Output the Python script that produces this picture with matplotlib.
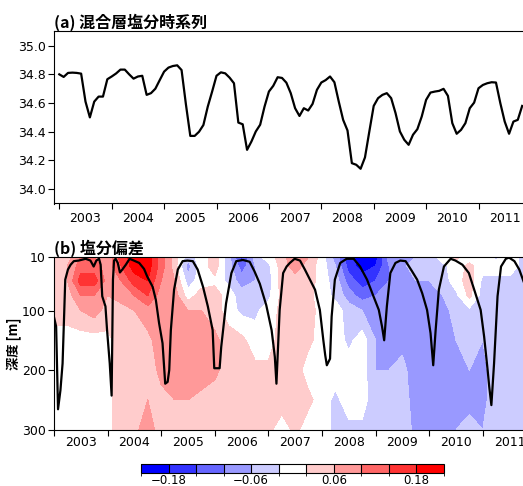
import matplotlib
matplotlib.use("Agg")
import matplotlib.pyplot as plt
import numpy as np
from matplotlib.colors import ListedColormap, BoundaryNorm
from matplotlib.cm import ScalarMappable

# ---- data ----
# (a) monthly mixed-layer salinity, Jan 2003 onwards
ml_salt = [34.80, 34.782, 34.81, 34.812, 34.81, 34.805, 34.61, 34.50, 34.61, 34.645, 34.645, 34.766,
           34.785, 34.806, 34.833, 34.833, 34.80, 34.77, 34.785, 34.79, 34.657, 34.669, 34.70, 34.76,
           34.819, 34.847, 34.858, 34.863, 34.83, 34.59, 34.371, 34.371, 34.40, 34.447, 34.575, 34.68,
           34.79, 34.814, 34.807, 34.777, 34.738, 34.464, 34.452, 34.274, 34.332, 34.402, 34.449, 34.575,
           34.68, 34.72, 34.78, 34.775, 34.742, 34.669, 34.564, 34.51, 34.564, 34.548, 34.594, 34.692,
           34.743, 34.76, 34.785, 34.745, 34.61, 34.483, 34.409, 34.181, 34.17, 34.142, 34.221, 34.402,
           34.58, 34.634, 34.657, 34.669, 34.634, 34.53, 34.402, 34.344, 34.309, 34.379, 34.418, 34.506,
           34.622, 34.673, 34.68, 34.685, 34.699, 34.65, 34.46, 34.386, 34.413, 34.46, 34.564, 34.603,
           34.703, 34.726, 34.738, 34.745, 34.743, 34.599, 34.471, 34.386, 34.471, 34.483, 34.58]
ml_time = 2003 + np.arange(len(ml_salt)) / 12.0

# (b) salinity anomaly, quarterly columns x depth rows
anom_depth = [10, 25, 50, 75, 100, 150, 200, 250, 300]
anom_time = 2003 + 0.25 * np.arange(36)
anom = [
    [0.04, 0.04, 0.10, 0.10, 0.06, 0.16, 0.20, 0.20, 0.12, 0.04, -0.04, 0.0, 0.04, -0.04, -0.16, -0.04, 0.0, 0.04,
     0.10, 0.06, 0.0, -0.08, -0.16, -0.22, -0.20, -0.08, -0.08, -0.06, -0.04, 0.0, 0.03, 0.0, 0.0, -0.03, 0.0, -0.03],
    [0.04, 0.06, 0.12, 0.12, 0.08, 0.14, 0.20, 0.20, 0.12, 0.04, -0.08, 0.0, 0.04, -0.04, -0.12, -0.06, -0.03, 0.04,
     0.08, 0.04, 0.0, -0.06, -0.16, -0.20, -0.18, -0.10, -0.07, -0.04, -0.04, -0.03, 0.0, 0.03, 0.0, 0.0, 0.0, -0.03],
    [0.04, 0.06, 0.16, 0.16, 0.08, 0.10, 0.16, 0.18, 0.10, 0.06, -0.04, 0.0, 0.01, -0.03, -0.08, -0.06, -0.04, 0.04,
     0.04, 0.04, 0.0, -0.04, -0.12, -0.16, -0.14, -0.10, -0.08, -0.06, -0.06, -0.04, 0.0, 0.04, -0.03, -0.03, -0.03, -0.04],
    [0.04, 0.04, 0.10, 0.10, 0.06, 0.07, 0.10, 0.14, 0.08, 0.08, 0.0, 0.04, 0.04, 0.0, -0.04, -0.04, -0.03, 0.03,
     0.04, 0.03, 0.0, -0.03, -0.08, -0.12, -0.10, -0.08, -0.08, -0.08, -0.08, -0.06, -0.03, 0.03, -0.04, -0.04, -0.04, -0.04],
    [0.04, 0.04, 0.06, 0.08, 0.04, 0.05, 0.06, 0.08, 0.08, 0.08, 0.06, 0.06, 0.04, 0.0, -0.03, -0.03, 0.0, 0.03,
     0.04, 0.04, 0.0, 0.0, -0.04, -0.06, -0.08, -0.08, -0.08, -0.08, -0.08, -0.08, -0.04, -0.03, -0.04, -0.04, -0.04, -0.04],
    [0.0, 0.0, 0.0, 0.0, 0.01, 0.04, 0.04, 0.05, 0.08, 0.08, 0.08, 0.08, 0.07, 0.04, 0.03, 0.0, 0.0, 0.04,
     0.04, 0.03, 0.0, 0.0, -0.03, 0.0, -0.06, -0.08, -0.07, -0.08, -0.08, -0.08, -0.06, -0.04, -0.06, -0.04, -0.04, -0.04],
    [0.0, 0.0, 0.0, 0.0, 0.01, 0.04, 0.04, 0.04, 0.07, 0.08, 0.08, 0.08, 0.07, 0.04, 0.04, 0.03, 0.03, 0.04,
     0.04, 0.0, 0.0, 0.0, 0.0, 0.0, -0.06, -0.06, -0.05, -0.08, -0.08, -0.08, -0.08, -0.06, -0.07, -0.04, -0.04, -0.04],
    [0.0, 0.0, 0.0, 0.0, 0.01, 0.04, 0.04, 0.06, 0.05, 0.06, 0.06, 0.05, 0.04, 0.04, 0.04, 0.04, 0.04, 0.04,
     0.03, 0.03, 0.0, -0.03, 0.0, 0.0, -0.05, -0.04, -0.04, -0.08, -0.09, -0.09, -0.08, -0.07, -0.07, -0.04, -0.04, -0.04],
    [0.0, 0.0, 0.0, 0.0, 0.01, 0.04, 0.05, 0.08, 0.04, 0.04, 0.04, 0.04, 0.04, 0.04, 0.04, 0.04, 0.03, 0.0,
     0.03, 0.0, 0.0, -0.03, -0.03, -0.03, -0.03, -0.04, -0.04, -0.07, -0.10, -0.08, -0.06, -0.05, -0.06, -0.04, -0.04, -0.04],
]

# mixed layer depth (black line in panel b)
mld_year = [2003.0, 2003.04, 2003.075, 2003.12, 2003.16, 2003.19, 2003.21, 2003.26, 2003.31, 2003.37, 2003.46,
            2003.59, 2003.68, 2003.74, 2003.79, 2003.84, 2003.87, 2003.90, 2003.96, 2003.99, 2004.04, 2004.075,
            2004.10, 2004.12, 2004.15, 2004.19, 2004.23, 2004.275, 2004.34, 2004.41, 2004.49, 2004.59, 2004.68,
            2004.74, 2004.84, 2004.90, 2004.96, 2005.025, 2005.075, 2005.12, 2005.15, 2005.18, 2005.24, 2005.31,
            2005.40, 2005.49, 2005.59, 2005.68, 2005.78, 2005.87, 2005.96, 2005.99, 2006.09, 2006.12, 2006.21,
            2006.31, 2006.40, 2006.525, 2006.65, 2006.74, 2006.84, 2006.96, 2007.06, 2007.12, 2007.15, 2007.21,
            2007.275, 2007.34, 2007.40, 2007.49, 2007.59, 2007.68, 2007.775, 2007.87, 2007.96, 2008.025, 2008.06,
            2008.09, 2008.15, 2008.18, 2008.24, 2008.34, 2008.46, 2008.59, 2008.71, 2008.84, 2008.96, 2009.06,
            2009.12, 2009.16, 2009.21, 2009.275, 2009.37, 2009.46, 2009.56, 2009.68, 2009.775, 2009.87, 2009.96,
            2010.025, 2010.075, 2010.12, 2010.18, 2010.275, 2010.40, 2010.49, 2010.62, 2010.74, 2010.84, 2010.96,
            2011.025, 2011.09, 2011.12, 2011.16, 2011.21, 2011.275, 2011.34, 2011.43, 2011.49, 2011.59, 2011.68,
            2011.76]
mld_depth = [111, 127, 266, 234, 189, 105, 48, 31, 23, 17, 16,
             13, 16, 26, 16, 13, 23, 76, 93, 133, 189, 243,
             48, 16, 13, 20, 36, 31, 23, 13, 16, 20, 30,
             43, 60, 82, 121, 155, 223, 220, 200, 133, 65, 31,
             17, 16, 17, 31, 60, 93, 133, 197, 197, 161, 88,
             37, 17, 15, 18, 34, 55, 91, 133, 178, 223, 99,
             37, 26, 20, 13, 16, 31, 48, 65, 99, 150, 175,
             192, 181, 110, 48, 20, 13, 13, 26, 48, 76, 99,
             127, 150, 93, 37, 20, 16, 17, 34, 48, 71, 99,
             138, 192, 133, 65, 26, 13, 16, 23, 37, 65, 99,
             144, 200, 228, 259, 189, 76, 26, 13, 11, 17, 31,
             51]

years = list(range(2003, 2012))
cb_ticks = [-0.18, -0.06, 0.06, 0.18]
colors = ['#0000ff', '#3333ff', '#6666ff', '#9999ff', '#ccccff', '#ffffff',
          '#ffcccc', '#ff9999', '#ff6666', '#ff3333', '#ff0000']

cjk = ['Noto Sans CJK JP', 'DejaVu Sans']
W, H = 523, 486
fig = plt.figure(figsize=(W / 100, H / 100), dpi=100)

def year_axis(ax):
    ax.set_xticks(years)
    ax.set_xticklabels([''] * len(years))
    ax.set_xticks([y + 0.5 for y in years], minor=True)
    ax.set_xticklabels([str(y) for y in years], minor=True)
    ax.tick_params(axis='x', which='major', direction='out', length=4, width=0.8)
    ax.tick_params(axis='x', which='minor', length=0, pad=6, labelsize=9)
    ax.tick_params(axis='y', direction='out', length=4, width=0.8, labelsize=9, pad=2)
    ax.spines['right'].set_visible(False)

# ---- (a) time series ----
ax1 = fig.add_axes([54 / W, 1 - 203.5 / H, 1 - 54 / W, 172.2 / H])
ax1.plot(ml_time, ml_salt, color='black', lw=1.6)
ax1.set_xlim(2003 - 5.3 / 52.4, 2003 + (523 - 59.3) / 52.4)
ax1.set_ylim(33.9, 35.1)
ax1.set_yticks(np.arange(34.0, 35.01, 0.2))
ax1.set_yticklabels([f"{v:.1f}" for v in np.arange(34.0, 35.01, 0.2)])
year_axis(ax1)
ax1.set_title("(a) 混合層塩分時系列", loc='left', fontsize=11.5, fontweight='bold',
              family=cjk, pad=2)

# ---- (b) anomaly section ----
ax2 = fig.add_axes([54 / W, 1 - 429.5 / H, 1 - 54 / W, 172.5 / H])
levels = [-1, -0.18, -0.14, -0.10, -0.06, -0.02, 0.02, 0.06, 0.10, 0.14, 0.18, 1]
cmap = ListedColormap(colors)
ax2.contourf(anom_time, anom_depth, np.array(anom), levels=levels, colors=colors)
ax2.plot(mld_year, mld_depth, color='black', lw=1.6)
ax2.set_xlim(2003.0, 2011.75)
ax2.set_ylim(300, 10)
ax2.set_yticks([10, 100, 200, 300])
year_axis(ax2)
ax2.tick_params(axis='x', which='minor', pad=5)
ax2.set_ylabel("深度 [m]", family=cjk, fontweight='bold', fontsize=9.5)
ax2.yaxis.set_label_coords(-0.068, 0.5)
ax2.set_title("(b) 塩分偏差", loc='left', fontsize=11.5, fontweight='bold',
              family=cjk, pad=2)

# ---- colorbar ----
cax = fig.add_axes([141 / W, 1 - 473 / H, 303 / W, 9 / H])
bounds = np.linspace(-0.22, 0.22, 12)
sm = ScalarMappable(norm=BoundaryNorm(bounds, cmap.N), cmap=cmap)
cb = fig.colorbar(sm, cax=cax, orientation='horizontal', drawedges=True, ticks=cb_ticks)
cb.ax.set_xticklabels([f"{t:.2f}".replace('-', '\u2212') for t in cb_ticks])
cb.ax.tick_params(length=0, labelsize=8.5, pad=1)
cb.outline.set_linewidth(0.8)
cb.dividers.set_linewidth(0.8)

fig.savefig("out.png", dpi=100)
